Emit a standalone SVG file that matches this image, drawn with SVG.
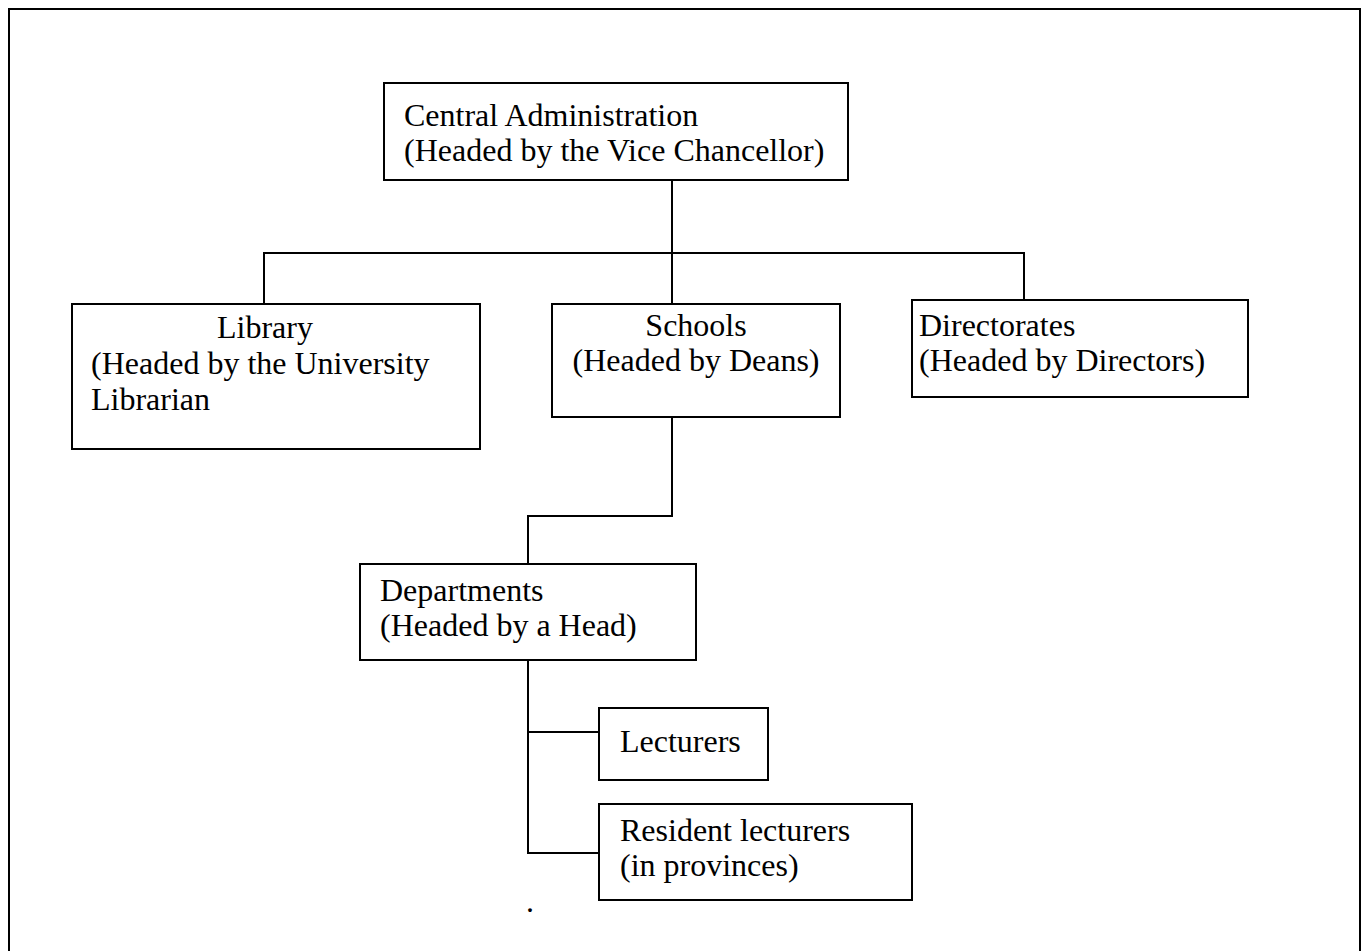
<svg xmlns="http://www.w3.org/2000/svg" width="1364" height="951" viewBox="0 0 1364 951">
  <style>
    .box { fill: #ffffff; stroke: #000000; stroke-width: 2; }
    .wire { fill: none; stroke: #000000; stroke-width: 2; }
    .lbl { font-family: "Liberation Serif", "Times New Roman", serif; font-size: 32px; fill: #000000; }
    .mid { text-anchor: middle; }
  </style>
  <rect x="0" y="0" width="1364" height="951" fill="#ffffff"/>
  <!-- page frame, open at the bottom -->
  <path class="wire" d="M9,960 V9 H1360 V960" stroke-width="3"/>

  <g id="connectors">
    <path class="wire" d="M672,180 V253"/>
    <path class="wire" d="M264,304 V253 H1024 V300"/>
    <path class="wire" d="M672,253 V304"/>
    <path class="wire" d="M672,417 V516 H528 V564"/>
    <path class="wire" d="M528,660 V853 H599"/>
    <path class="wire" d="M528,732 H599"/>
  </g>

  <g id="central-administration">
    <rect class="box" x="384" y="83" width="464" height="97"/>
    <text class="lbl" x="404" y="126">Central Administration</text>
    <text class="lbl" x="404" y="161">(Headed by the Vice Chancellor)</text>
  </g>

  <g id="library">
    <rect class="box" x="72" y="304" width="408" height="145"/>
    <text class="lbl mid" x="265" y="338">Library</text>
    <text class="lbl" x="91" y="374">(Headed by the University</text>
    <text class="lbl" x="91" y="410">Librarian</text>
  </g>

  <g id="schools">
    <rect class="box" x="552" y="304" width="288" height="113"/>
    <text class="lbl mid" x="696" y="336">Schools</text>
    <text class="lbl mid" x="696" y="371">(Headed by Deans)</text>
  </g>

  <g id="directorates">
    <rect class="box" x="912" y="300" width="336" height="97"/>
    <text class="lbl" x="919" y="336">Directorates</text>
    <text class="lbl" x="919" y="371">(Headed by Directors)</text>
  </g>

  <g id="departments">
    <rect class="box" x="360" y="564" width="336" height="96"/>
    <text class="lbl" x="380" y="601">Departments</text>
    <text class="lbl" x="380" y="636">(Headed by a Head)</text>
  </g>

  <g id="lecturers">
    <rect class="box" x="599" y="708" width="169" height="72"/>
    <text class="lbl" x="620" y="752">Lecturers</text>
  </g>

  <g id="resident-lecturers">
    <rect class="box" x="599" y="804" width="313" height="96"/>
    <text class="lbl" x="620" y="841">Resident lecturers</text>
    <text class="lbl" x="620" y="876">(in provinces)</text>
  </g>

  <text class="lbl" x="526" y="912" font-size="14">.</text>
</svg>
